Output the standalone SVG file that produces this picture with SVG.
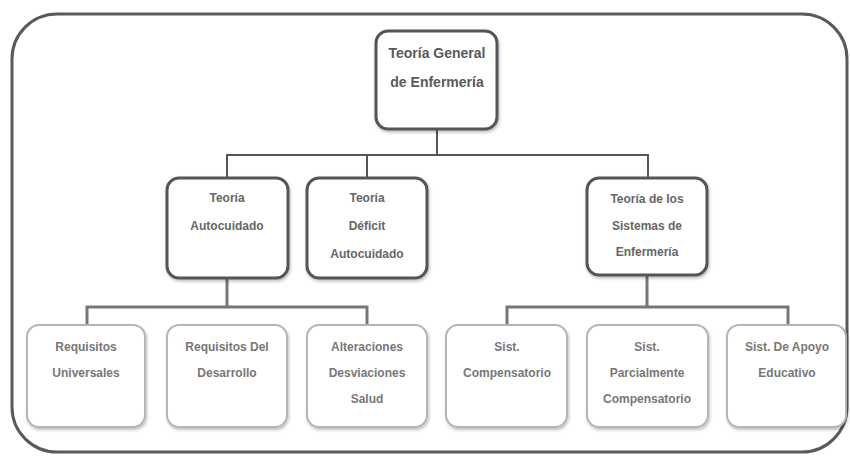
<svg xmlns="http://www.w3.org/2000/svg" width="850" height="456" viewBox="0 0 850 456">
<defs>
<filter id="sh" x="-10%" y="-10%" width="130%" height="130%">
<feDropShadow dx="1" dy="2" stdDeviation="1.5" flood-color="#000" flood-opacity="0.25"/>
</filter>
<style>
.frame{fill:none;stroke:#5a5a5a;stroke-width:3}
.n1{fill:#fff;stroke:#555;stroke-width:3;filter:url(#sh)}
.n2{fill:#fff;stroke:#b5b5b5;stroke-width:2;filter:url(#sh)}
.c{fill:none;stroke:#555;stroke-width:2}
.c2{fill:none;stroke:#777;stroke-width:3}
text{font-family:"Liberation Sans",Arial,sans-serif;font-weight:bold;text-anchor:middle;fill:#666;font-size:12px}
.t0{font-size:14px;fill:#5a5a5a}
.t1{fill:#666}
.t2{fill:#777}
</style>
</defs>
<rect width="850" height="456" fill="#fff"/>
<rect class="frame" x="12" y="14" width="835" height="438" rx="45" ry="45"/>
<g id="connectors">
<path class="c" d="M437 129 V155 M227 178 V155 H648 V178 M367 155 V178"/>
<path class="c2" d="M227 278 V307 M87 325 V307 H367 V325"/>
<path class="c2" d="M647 275 V307 M507 325 V307 H788 V325"/>
</g>
<g id="n-root">
<rect class="n1" x="376" y="31" width="121" height="98" rx="12"/>
<text class="t0" x="437" y="58">Teoría General</text>
<text class="t0" x="437" y="87">de Enfermería</text>
</g>
<g id="n-autocuidado">
<rect class="n1" x="167" y="178" width="121" height="100" rx="12"/>
<text class="t1" x="227" y="202">Teoría</text>
<text class="t1" x="227" y="230">Autocuidado</text>
</g>
<g id="n-deficit">
<rect class="n1" x="307" y="178" width="120" height="100" rx="12"/>
<text class="t1" x="367" y="202">Teoría</text>
<text class="t1" x="367" y="230">Déficit</text>
<text class="t1" x="367" y="258">Autocuidado</text>
</g>
<g id="n-sistemas">
<rect class="n1" x="587" y="178" width="120" height="97" rx="12"/>
<text class="t1" x="647" y="203">Teoría de los</text>
<text class="t1" x="647" y="230">Sistemas de</text>
<text class="t1" x="647" y="256">Enfermería</text>
</g>
<g id="n-req-univ">
<rect class="n2" x="27" y="325" width="118" height="102" rx="12"/>
<text class="t2" x="86" y="351">Requisitos</text>
<text class="t2" x="86" y="377">Universales</text>
</g>
<g id="n-req-des">
<rect class="n2" x="167" y="325" width="120" height="102" rx="12"/>
<text class="t2" x="227" y="351">Requisitos Del</text>
<text class="t2" x="227" y="377">Desarrollo</text>
</g>
<g id="n-alter">
<rect class="n2" x="307" y="325" width="120" height="102" rx="12"/>
<text class="t2" x="367" y="351">Alteraciones</text>
<text class="t2" x="367" y="377">Desviaciones</text>
<text class="t2" x="367" y="403">Salud</text>
</g>
<g id="n-comp">
<rect class="n2" x="446" y="325" width="121" height="102" rx="12"/>
<text class="t2" x="507" y="351">Sist.</text>
<text class="t2" x="507" y="377">Compensatorio</text>
</g>
<g id="n-parc">
<rect class="n2" x="587" y="325" width="121" height="102" rx="12"/>
<text class="t2" x="647" y="351">Sist.</text>
<text class="t2" x="647" y="377">Parcialmente</text>
<text class="t2" x="647" y="403">Compensatorio</text>
</g>
<g id="n-apoyo">
<rect class="n2" x="727" y="325" width="119" height="102" rx="12"/>
<text class="t2" x="787" y="351">Sist.  De Apoyo</text>
<text class="t2" x="787" y="377">Educativo</text>
</g>
</svg>
